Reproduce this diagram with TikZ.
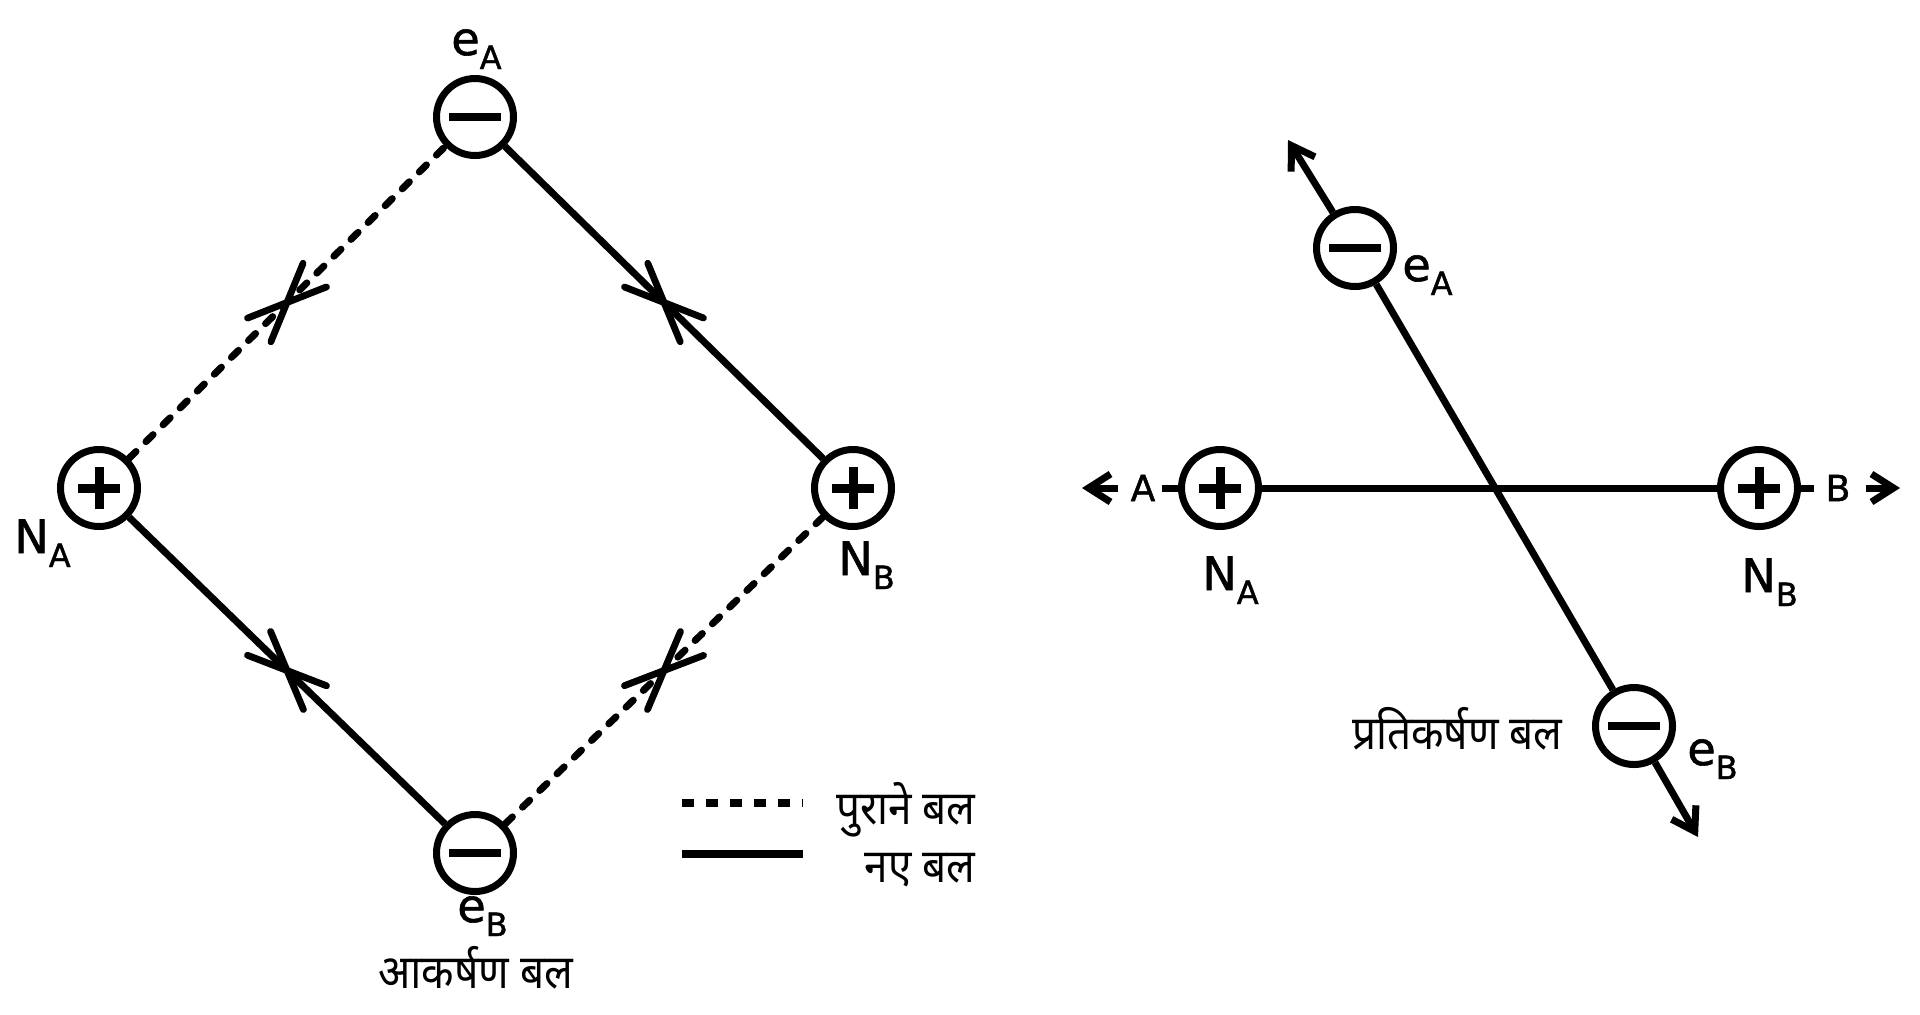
\documentclass[tikz,border=0pt]{standalone}
\usepackage{fontspec}
\setmainfont{DejaVu Sans}
\newfontfamily\labfont[FakeBold=1.3]{DejaVu Sans}
\newfontfamily\hindi[Script=Devanagari, FakeStretch=0.9]{Noto Sans}
\usetikzlibrary{arrows.meta,decorations.markings}
\newcommand{\lbl}[2]{\labfont\fontsize{23}{26}\selectfont #1\raisebox{-7pt}{\fontsize{16}{18}\selectfont #2}}
\begin{document}
\begin{tikzpicture}[x=0.5pt,y=-0.5pt,
  charge/.style={circle, draw, line width=3.5pt, minimum size=38.5pt, inner sep=0pt},
  negcharge/.style={charge, path picture={\draw[line width=4.2pt] ([xshift=-13pt]path picture bounding box.center) -- ([xshift=13pt]path picture bounding box.center);}},
  poscharge/.style={charge, path picture={\draw[line width=4.5pt] ([xshift=-10.5pt]path picture bounding box.center) -- ([xshift=10.5pt]path picture bounding box.center) ([yshift=-10.5pt]path picture bounding box.center) -- ([yshift=10.5pt]path picture bounding box.center);}},
  force/.style={line width=3.5pt},
  xmark/.style={postaction={decorate}, decoration={markings, mark=at position 0.5 with {\draw[solid, line width=3.4pt, line cap=round] (-19.5pt,-8.3pt)--(19.5pt,8.3pt) (-19.5pt,8.3pt)--(19.5pt,-8.3pt);}}},
  oldforce/.style={force, line cap=round, dash pattern=on 5pt off 7pt, xmark},
  newforce/.style={force, xmark},
  rtip/.style={-{Straight Barb[length=11pt,width=14pt]}},
  lab/.style={inner sep=0pt, anchor=base west},
  smalllab/.style={inner sep=0pt, font=\labfont\fontsize{18}{20}\selectfont},
  htext/.style={inner sep=0pt, font={\hindi\fontsize{23.5}{26}\selectfont}}
]
\useasboundingbox (0,0) rectangle (1920,1014);
\fill[white] (0,0) rectangle (1920,1014);

% ---------- left diagram ----------
\node[negcharge] (eA) at (475,117) {};
\node[poscharge] (NA) at (99,488) {};
\node[poscharge] (NB) at (853,488) {};
\node[negcharge] (eB) at (475,853) {};

\draw[oldforce] (NA) -- (eA);
\draw[newforce] (eA) -- (NB);
\draw[newforce] (NA) -- (eB);
\draw[oldforce] (eB) -- (NB);

\node[lab] (leA) at (451,55) {\lbl{e}{A}};
\node[lab] (lNA) at (14,553) {\lbl{N}{A}};
\node[lab] (lNB) at (838,575) {\lbl{N}{B}};
\node[lab] (leB) at (457,922) {\lbl{e}{B}};
\node[htext, anchor=base] (attr) at (476,988) {आकर्षण बल};

% legend
\coordinate (lg1a) at (682,803);
\coordinate (lg1b) at (803,803);
\coordinate (lg2a) at (682,854);
\coordinate (lg2b) at (803,854);
\draw[line width=4pt, dash pattern=on 6pt off 6pt] (lg1a) -- (lg1b);
\draw[line width=4.2pt] (lg2a) -- (lg2b);
\node[htext, anchor=base east] (old) at (976,824) {पुराने बल};
\node[htext, anchor=base east] (new) at (976,882) {नए बल};

% ---------- right diagram ----------
\node[negcharge] (eA2) at (1355,248) {};
\node[negcharge] (eB2) at (1634,726) {};
\node[poscharge] (NA2) at (1220,488) {};
\node[poscharge] (NB2) at (1759,488) {};

\coordinate (tipA) at (1288,140);
\coordinate (tipB) at (1698,837);
\draw[force] (NA2) -- (NB2);
\draw[force] (eA2) -- (eB2);
\draw[force, rtip] (eA2) -- (tipA);
\draw[force, rtip] (eB2) -- (tipB);

\coordinate (stubA) at (1162,488);
\coordinate (stubB) at (1814,488);
\draw[force] (NA2) -- (stubA);
\draw[force] (NB2) -- (stubB);
\node[smalllab] (lA) at (1143,488) {A};
\node[smalllab] (lB) at (1838,488) {B};
\coordinate (aAs) at (1118,488);
\coordinate (aAt) at (1082,488);
\coordinate (aBs) at (1866,488);
\coordinate (aBt) at (1900,488);
\draw[line width=3.5pt, rtip] (aAs) -- (aAt);
\draw[line width=3.5pt, rtip] (aBs) -- (aBt);

\node[lab] (leA2) at (1402,281) {\lbl{e}{A}};
\node[lab] (leB2) at (1687,765) {\lbl{e}{B}};
\node[lab] (lNA2) at (1202,590) {\lbl{N}{A}};
\node[lab] (lNB2) at (1741,592) {\lbl{N}{B}};
\node[htext, anchor=base east] (rep) at (1563,749) {प्रतिकर्षण बल};
\end{tikzpicture}
\end{document}
